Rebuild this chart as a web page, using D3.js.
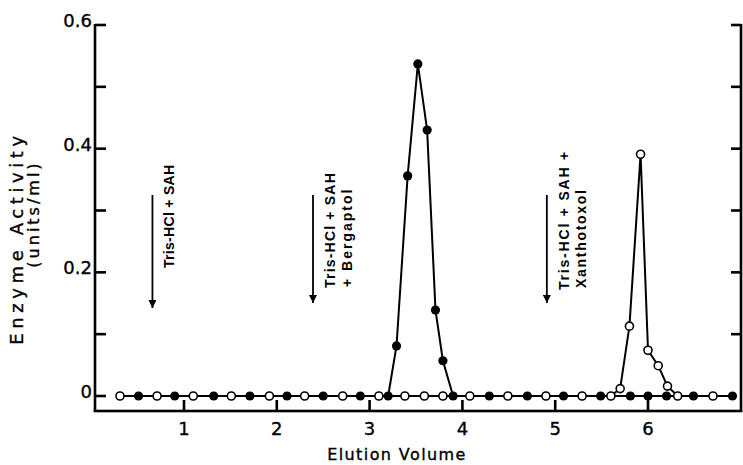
<!DOCTYPE html>
<html>
<head>
<meta charset="utf-8">
<script src="https://cdn.jsdelivr.net/npm/d3@7"></script>
<style>
  html, body { margin: 0; padding: 0; background: #fff; }
  svg { display: block; }
</style>
</head>
<body>
<svg id="chart" width="743" height="465"></svg>
<script>
// ---- data ----
const filledX = [0.51, 0.90, 1.32, 1.71, 2.11, 2.50, 2.90, 3.20, 3.29, 3.41, 3.52, 3.62, 3.71, 3.79, 3.90, 4.29, 4.70, 5.09, 5.49, 5.81, 6.00, 6.20, 6.49, 6.91];
const filledY = [0, 0, 0, 0, 0, 0, 0, 0, 0.081, 0.356, 0.537, 0.430, 0.139, 0.057, 0, 0, 0, 0, 0, 0, 0, 0, 0, 0];
const openX = [0.31, 0.71, 1.10, 1.51, 1.92, 2.30, 2.71, 3.10, 3.38, 3.59, 3.79, 4.08, 4.49, 4.90, 5.29, 5.60, 5.70, 5.80, 5.92, 6.00, 6.11, 6.21, 6.32, 6.70];
const openY = [0, 0, 0, 0, 0, 0, 0, 0, 0, 0, 0, 0, 0, 0, 0, 0, 0.012, 0.113, 0.391, 0.074, 0.049, 0.016, 0, 0];
const xTicks = [1, 2, 3, 4, 5, 6];
const xTickLabels = ["1", "2", "3", "4", "5", "6"];
const yTicks = [0, 0.2, 0.4, 0.6];
const yTickLabels = ["0", "0.2", "0.4", "0.6"];
const yMinorTicks = [0.1, 0.3, 0.5];
const annotX = [0.66, 2.39, 4.91];
const annotLines = [["Tris-HCl + SAH"], ["Tris-HCl + SAH", "+ Bergaptol"], ["Tris-HCl + SAH +", "Xanthotoxol"]];

// ---- layout ----
const svg = d3.select("#chart");
const x = d3.scaleLinear().domain([0, 7]).range([91.2, 740.8]);
const y = d3.scaleLinear().domain([0, 0.6]).range([396, 25]);
const axisLeftX = 95, axisRightX = 741, axisBottomY = 411, axisTopY = 25;
const ink = "#000";
const lw = 2.6; // frame / tick thickness

// frame as filled rects
const frameG = svg.append("g").attr("fill", ink);
frameG.append("rect").attr("x", axisLeftX - lw / 2).attr("y", axisTopY - 1).attr("width", lw).attr("height", axisBottomY - axisTopY + 2);
frameG.append("rect").attr("x", axisRightX - lw / 2).attr("y", axisTopY - 1).attr("width", lw).attr("height", axisBottomY - axisTopY + 2);
frameG.append("rect").attr("x", axisLeftX - lw / 2).attr("y", axisBottomY - lw / 2).attr("width", axisRightX - axisLeftX + lw).attr("height", lw);

// ticks
const allY = yTicks.concat(yMinorTicks).sort((a, b) => a - b);
frameG.selectAll(".lt").data(allY).enter().append("rect")
  .attr("x", axisLeftX).attr("y", d => y(d) - lw / 2).attr("width", 11).attr("height", lw);
frameG.selectAll(".rt").data(allY.filter(d => d > 0)).enter().append("rect")
  .attr("x", axisRightX - 10).attr("y", d => y(d) - lw / 2).attr("width", 10).attr("height", lw);
frameG.selectAll(".bt").data(xTicks).enter().append("rect")
  .attr("x", d => x(d) - lw / 2).attr("y", axisBottomY - 11).attr("width", lw).attr("height", 11);

// tick labels
const labelStyle = sel => sel.style("font-family", "DejaVu Sans, sans-serif").style("fill", ink)
  .style("stroke", ink).style("stroke-width", "0.35px");
svg.selectAll(".yl").data(yTicks).enter().append("text")
  .attr("x", 92).attr("y", d => y(d) - 3)
  .attr("text-anchor", "end")
  .attr("dominant-baseline", "middle")
  .style("font-size", "18px").call(labelStyle)
  .text((d, i) => yTickLabels[i]);
svg.selectAll(".xl").data(xTicks).enter().append("text")
  .attr("x", d => x(d)).attr("y", 435)
  .attr("text-anchor", "middle")
  .style("font-size", "18px").call(labelStyle)
  .text((d, i) => xTickLabels[i]);

// axis titles
svg.append("text").attr("x", 397).attr("y", 460).attr("text-anchor", "middle")
  .style("font-size", "16px").style("letter-spacing", "1.4px").call(labelStyle)
  .text("Elution Volume");
svg.append("text").attr("transform", "translate(23,238) rotate(-90)").attr("text-anchor", "middle")
  .style("font-size", "18px").style("letter-spacing", "4.6px").call(labelStyle)
  .text("Enzyme Activity");
svg.append("text").attr("transform", "translate(39,214) rotate(-90)").attr("text-anchor", "middle")
  .style("font-size", "16px").style("letter-spacing", "3.0px").call(labelStyle)
  .text("(units/ml)");

// annotations
const defs = svg.append("defs");
defs.append("marker").attr("id", "ah").attr("viewBox", "0 0 10 10").attr("refX", 10).attr("refY", 5)
  .attr("markerWidth", 11).attr("markerHeight", 8).attr("markerUnits", "userSpaceOnUse").attr("orient", "auto")
  .append("path").attr("d", "M0,0 L10,5 L0,10 Z").attr("fill", ink);
const arrowEnd = [308, 303, 303];
const textStart = [[268], [288, 287], [290, 288]];
const textSpacing = [[0.3, 1.2], [1.2, 2.0], [1.8, 1.7]];
annotX.forEach((ax, i) => {
  const px = x(ax);
  svg.append("line").attr("x1", px).attr("x2", px).attr("y1", 195).attr("y2", arrowEnd[i])
    .attr("stroke", ink).attr("stroke-width", 1.8).attr("marker-end", "url(#ah)");
  annotLines[i].forEach((t, j) => {
    const cx = px + 17 + j * 17;
    svg.append("text").attr("transform", `translate(${cx + 5},${textStart[i][j]}) rotate(-90)`)
      .attr("text-anchor", "start")
      .style("font-family", "Liberation Sans, Arial, sans-serif").style("font-weight", "bold")
      .style("font-size", "14px").style("letter-spacing", textSpacing[i][j] + "px").style("fill", ink)
      .text(t);
  });
});

// series lines
const line = d3.line().x(d => x(d[0])).y(d => y(d[1]));
const filled = filledX.map((v, i) => [v, filledY[i]]);
const open = openX.map((v, i) => [v, openY[i]]);
svg.append("path").datum(filled).attr("d", line).attr("fill", "none").attr("stroke", ink).attr("stroke-width", 2);
svg.append("path").datum(open).attr("d", line).attr("fill", "none").attr("stroke", ink).attr("stroke-width", 2);

// points
svg.selectAll(".fp").data(filled).enter().append("circle")
  .attr("cx", d => x(d[0])).attr("cy", d => y(d[1])).attr("r", 4.6)
  .attr("fill", ink);
svg.selectAll(".op").data(open).enter().append("circle")
  .attr("cx", d => x(d[0])).attr("cy", d => y(d[1])).attr("r", 4.0)
  .attr("fill", "#fff").attr("stroke", ink).attr("stroke-width", 1.6);
</script>
</body>
</html>
